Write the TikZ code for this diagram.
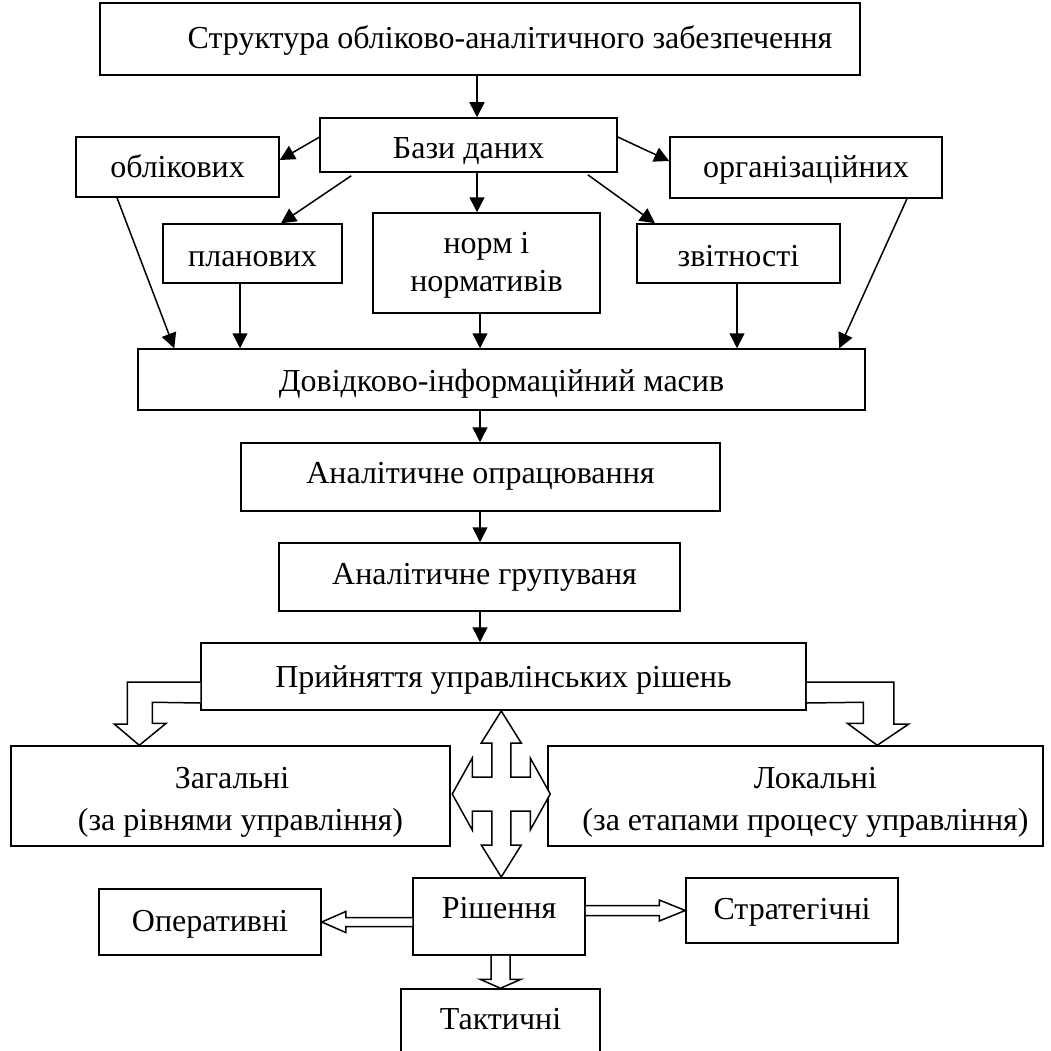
\documentclass[tikz,border=0pt]{standalone}
\usepackage{fontspec}
\setmainfont{Liberation Serif}
\usetikzlibrary{calc,arrows.meta}
\begin{document}
\begin{tikzpicture}[x=1pt,y=-1pt,
 box/.style={draw, line width=1.5pt, inner sep=0pt, align=center, font=\fontsize{32}{38}\selectfont},
 one/.style={box, text height=#1, text depth=4pt},
 one/.default=25pt,
 two/.style={box, font=\fontsize{32}{42}\selectfont},
 arr/.style={line width=1.5pt, -{Triangle[length=15pt,width=15pt]}},
 hol/.style={line width=1.5pt, fill=white, line join=miter}]
\useasboundingbox (0,0) rectangle (1050,1051);
\clip (0,0) rectangle (1050,1051);

\node[one=23pt, minimum width=760pt, minimum height=72pt] (title) at (480,39) {\hspace*{60pt}Структура обліково-аналітичного забезпечення};
\node[one=32pt, minimum width=297pt, minimum height=54pt] (baz) at (468.5,145) {Бази даних};
\node[one=26pt, minimum width=203pt, minimum height=60pt] (obl) at (177.5,167) {облікових};
\node[one=25pt, minimum width=272pt, minimum height=61pt] (org) at (806,167.5) {організаційних};
\node[one=29pt, minimum width=179pt, minimum height=59pt] (plan) at (252.5,253.5) {планових};
\node[box, minimum width=227pt, minimum height=100pt] (norm) at (486.5,263) {\rule{0pt}{26pt}норм і\\нормативів};
\node[one=29pt, minimum width=203pt, minimum height=59pt] (zvit) at (738.5,253.5) {звітності};
\node[one=28pt, minimum width=727pt, minimum height=61pt] (dov) at (501.5,379.5) {Довідково-інформаційний масив};
\node[one=17pt, minimum width=479pt, minimum height=68pt] (opr) at (480.5,477) {Аналітичне опрацювання};
\node[one=18pt, minimum width=401pt, minimum height=68pt] (grup) at (479.5,577) {\hspace*{10pt}Аналітичне групуваня};
\node[one=25pt, minimum width=605pt, minimum height=67pt] (pryi) at (503.5,676.5) {Прийняття управлінських рішень};
\node[two, minimum width=439pt, minimum height=100pt] (zag) at (230.5,796) {\rule{0pt}{33pt}\hspace*{3pt}Загальні\\\hspace*{20pt}(за рівнями управління)};
\node[two, minimum width=495pt, minimum height=100pt] (lok) at (795.5,796) {\rule{0pt}{33pt}\hspace*{40pt}Локальні\\\hspace*{20pt}(за етапами процесу управління)};
\node[box, text height=21pt, text depth=17pt, minimum width=172pt, minimum height=77pt] (rish) at (499,916.5) {Рішення};
\node[one=22pt, minimum width=222pt, minimum height=66pt] (oper) at (210,922) {Оперативні};
\node[one=21pt, minimum width=212pt, minimum height=65pt] (strat) at (792,910.5) {Стратегічні};
\node[one=21pt, minimum width=199pt, minimum height=64pt] (takt) at (500.5,1021) {Тактичні};

% black arrows
\draw[arr] ([xshift=-3pt]title.south) -- ([xshift=-3pt]title.south |- baz.north);
\draw[arr] ($(baz.north west)+(0,20)$) -- ($(obl.east)+(0,-7)$);
\draw[arr] ($(baz.south west)+(32,3)$) -- ($(plan.north)+(28.5,0)$);
\draw[arr] ([xshift=8.5pt]baz.south) -- ([xshift=8.5pt]baz.south |- norm.north);
\draw[arr] ($(baz.south east)+(-30,2)$) -- ($(zvit.north)+(-83.5,0)$);
\draw[arr] ($(baz.east)+(0,-8)$) -- ($(org.west)+(0,-6.5)$);
\draw[arr] ([xshift=-60.5pt]obl.south) -- ($(dov.north west)+(37,0)$);
\draw[arr] ([xshift=-12.5pt]plan.south) -- ([xshift=-12.5pt]plan.south |- dov.north);
\draw[arr] ([xshift=-6.5pt]norm.south) -- ([xshift=-6.5pt]norm.south |- dov.north);
\draw[arr] ([xshift=-1.5pt]zvit.south) -- ([xshift=-1.5pt]zvit.south |- dov.north);
\draw[arr] ([xshift=101pt]org.south) -- ($(dov.north west)+(702,0)$);
\draw[arr] ([xshift=-21.5pt]dov.south) -- ([xshift=-21.5pt]dov.south |- opr.north);
\draw[arr] ([xshift=-21.5pt]dov.south |- opr.south) -- ([xshift=-21.5pt]dov.south |- grup.north);
\draw[arr] ([xshift=-21.5pt]dov.south |- grup.south) -- ([xshift=-21.5pt]dov.south |- pryi.north);

% bent hollow arrows
\draw[hol] ($(pryi.west)+(0,5.5)$) -- ++(-73,0) -- ++(0,42) -- ++(-13,0)
  -- ($(zag.north west)+(129,0)$) -- ++(27,-22) -- ++(-14,0) -- ++(0,-21)
  -- ($(pryi.west)+(0,26.5)$);
\draw[hol] ($(pryi.east)+(0,5.5)$) -- ++(87,0) -- ++(0,42) -- ++(15,0)
  -- ($(lok.north west)+(330,0)$) -- ++(-30,-22) -- ++(16,0) -- ++(0,-21)
  -- ($(pryi.east)+(0,26.5)$);

% four-way arrow
\coordinate (c4) at ($(rish.north)!0.5!(pryi.south)$);
\draw[hol] ($(c4)+(0,-83)$) -- ++(20,32) -- ++(-10.5,0) -- ++(0,34) -- ++(19.5,0) -- ++(0,-19)
  -- ++(20,36) -- ++(-20,36) -- ++(0,-19) -- ++(-19.5,0) -- ++(0,34) -- ++(10.5,0)
  -- ++(-20,32) -- ++(-20,-32) -- ++(10.5,0) -- ++(0,-34) -- ++(-19.5,0) -- ++(0,19)
  -- ++(-20,-36) -- ++(20,-36) -- ++(0,19) -- ++(19.5,0) -- ++(0,-34) -- ++(-10.5,0) -- cycle;

% double hollow arrows from Рішення
\draw[hol] ($(rish.west |- oper.east)+(0,-4.5)$) -- ($(oper.east)+(24,-4.5)$) -- ++(0,-6) -- (oper.east)
  -- ++(24,10.5) -- ++(0,-6) -- ($(rish.west |- oper.east)+(0,4.5)$);
\draw[hol] ($(rish.east |- strat.west)+(0,-5)$) -- ($(strat.west)+(-26,-5)$) -- ++(0,-5.5) -- (strat.west)
  -- ++(-26,10.5) -- ++(0,-5.5) -- ($(rish.east |- strat.west)+(0,5)$);
\draw[hol] ($(rish.south -| takt.north)+(-9.5,0)$) -- ($(takt.north)+(-9.5,-9)$) -- ++(-11,0) -- (takt.north)
  -- ++(20.5,-9) -- ++(-11,0) -- ($(rish.south -| takt.north)+(9.5,0)$);
\end{tikzpicture}
\end{document}
